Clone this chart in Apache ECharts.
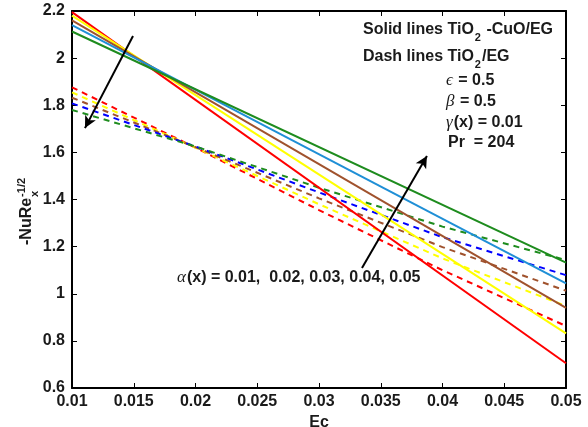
<!DOCTYPE html>
<html><head><meta charset="utf-8">
<script src="https://cdn.jsdelivr.net/npm/echarts@6/dist/echarts.min.js"></script>
<style>html,body{margin:0;padding:0;background:#fff;}#c{width:588px;height:427px;}</style>
</head><body><div id="c"></div>
<script>
// ---- data ----
const xTicks = ['0.01','0.015','0.02','0.025','0.03','0.035','0.04','0.045','0.05'];
const yTicks = ['0.6','0.8','1','1.2','1.4','1.6','1.8','2','2.2'];
const seriesNames = ['red','yellow','brown','blue','green'];
// solid lines (TiO2-CuO/EG): straight, read at Ec=0.01 and Ec=0.05
const solidEc = [0.01, 0.05];
const solidRed    = [2.195, 0.705];
const solidYellow = [2.18, 0.832];
const solidBrown  = [2.16, 0.94];
const solidBlue   = [2.14, 1.044];
const solidGreen  = [2.113, 1.132];
// dashed lines (TiO2/EG)
const dashEc = [0.01, 0.02, 0.03, 0.04, 0.05];
const dashRed    = [1.876, 1.62, 1.355, 1.10, 0.863];
const dashYellow = [1.855, 1.62, 1.38, 1.15, 0.948];
const dashBrown  = [1.832, 1.622, 1.405, 1.198, 1.013];
const dashBlue   = [1.808, 1.625, 1.43, 1.24, 1.079];
const dashGreen  = [1.78, 1.625, 1.45, 1.285, 1.143];
// arrows (data coords): [start, end]
const arrowDown = [[0.01494, 2.094], [0.01105, 1.703]];
const arrowUp   = [[0.03348, 1.109], [0.03874, 1.585]];

// ---- styles ----
const solidColors = ['#ff0000', '#ffff00', '#a0522d', '#1f8fd6', '#1e8c1e'];
const dashColors  = ['#ff0000', '#ffff00', '#a0522d', '#0000ff', '#1e8c1e'];
const FONT = 'Liberation Sans';
const TXT = '#1a1a1a';
const BOLD16 = 'bold 16px "Liberation Sans"';
const SUB = 'bold 11px "Liberation Sans"';
const GREEK = 'italic 17px "Liberation Serif"';

const ctx = document.createElement('canvas').getContext('2d');
function tw(t, f) { ctx.font = f; return ctx.measureText(t).width; }

const pair = (xs, ys) => xs.map((x, i) => [x, ys[i]]);
const solids = [solidRed, solidYellow, solidBrown, solidBlue, solidGreen];
const dashes = [dashRed, dashYellow, dashBrown, dashBlue, dashGreen];

const series = [];
dashes.forEach((d, i) => series.push({
  type: 'line', name: 'dash ' + seriesNames[i], data: pair(dashEc, d), showSymbol: false,
  lineStyle: { color: dashColors[i], width: 2, type: [6, 5] }, silent: true, z: 2
}));
solids.forEach((d, i) => series.push({
  type: 'line', name: 'solid ' + seriesNames[i], data: pair(solidEc, d), showSymbol: false,
  lineStyle: { color: solidColors[i], width: 2 }, silent: true, z: 3
}));
series.push({
  type: 'line', data: [], silent: true, z: 5,
  markLine: {
    silent: true, symbol: ['none', 'arrow'], symbolSize: [9, 12], label: { show: false },
    lineStyle: { color: '#000', width: 2, type: 'solid' },
    emphasis: { disabled: true },
    data: [
      [{ coord: arrowDown[0] }, { coord: arrowDown[1] }],
      [{ coord: arrowUp[0] }, { coord: arrowUp[1] }]
    ]
  }
});

const axisCommon = {
  axisLine: { show: true, onZero: false, lineStyle: { color: '#000', width: 2 } },
  axisTick: { show: true, inside: true, length: 5, lineStyle: { color: '#000', width: 1 } },
  splitLine: { show: false }
};

function subText(x, y, a, s, b) {
  const w = tw(a, BOLD16);
  const ws = tw(s, SUB);
  return { type: 'group', x: x, y: y, children: [
    { type: 'text', x: 0, y: 0, style: { text: a, font: BOLD16, fill: TXT, textVerticalAlign: 'middle' } },
    { type: 'text', x: w + 1, y: 8, style: { text: s, font: SUB, fill: TXT, textVerticalAlign: 'middle' } },
    { type: 'text', x: w + ws + 2, y: 0, style: { text: b, font: BOLD16, fill: TXT, textVerticalAlign: 'middle' } }
  ] };
}
function greekText(x, y, g, b) {
  const w = tw(g, GREEK);
  return { type: 'group', x: x, y: y, children: [
    { type: 'text', x: 0, y: 0, style: { text: g, font: GREEK, fill: TXT, textVerticalAlign: 'middle' } },
    { type: 'text', x: w + 1, y: 0, style: { text: b, font: BOLD16, fill: TXT, textVerticalAlign: 'middle' } }
  ] };
}
const nuW = tw('-NuRe', BOLD16);

const option = {
  animation: false,
  backgroundColor: '#fff',
  grid: { left: 72, right: 22, top: 11, bottom: 39, containLabel: false, outerBoundsMode: 'none' },
  xAxis: [
    Object.assign({}, axisCommon, {
      type: 'value', min: 0.01, max: 0.05, interval: 0.005, position: 'bottom',
      name: 'Ec', nameLocation: 'middle', nameGap: 21,
      nameTextStyle: { fontFamily: FONT, fontWeight: 'bold', fontSize: 16, color: TXT },
      axisLabel: { fontFamily: FONT, fontWeight: 'bold', fontSize: 16, color: TXT, margin: 6,
        formatter: v => { const i = Math.round((v - 0.01) / 0.005); return xTicks[i] || ''; } }
    }),
    Object.assign({}, axisCommon, {
      type: 'value', min: 0.01, max: 0.05, interval: 0.005, position: 'top', axisLabel: { show: false }
    })
  ],
  yAxis: [
    Object.assign({}, axisCommon, {
      type: 'value', min: 0.6, max: 2.2, interval: 0.2, position: 'left',
      axisLabel: { fontFamily: FONT, fontWeight: 'bold', fontSize: 16, color: TXT, margin: 7,
        formatter: v => { const i = Math.round((v - 0.6) / 0.2); return yTicks[i] || ''; } }
    }),
    Object.assign({}, axisCommon, {
      type: 'value', min: 0.6, max: 2.2, interval: 0.2, position: 'right', axisLabel: { show: false }
    })
  ],
  series: series,
  graphic: [
    {
      type: 'group', x: 27, y: 245, rotation: Math.PI / 2,
      children: [
        { type: 'text', x: 0, y: 0, style: { text: '-NuRe', font: BOLD16, fill: TXT, textVerticalAlign: 'middle' } },
        { type: 'text', x: nuW + 1, y: 8, style: { text: 'x', font: SUB, fill: TXT, textVerticalAlign: 'middle' } },
        { type: 'text', x: nuW + 1, y: -5, style: { text: '-1/2', font: SUB, fill: TXT, textVerticalAlign: 'middle' } }
      ]
    },
    subText(363, 30, 'Solid lines TiO', '2', ' -CuO/EG'),
    subText(363, 57, 'Dash lines TiO', '2', '/EG'),
    greekText(446, 81, 'ϵ', ' = 0.5'),
    greekText(446, 102, 'β', ' = 0.5'),
    greekText(446, 123, 'γ', '(x) = 0.01'),
    { type: 'text', x: 448, y: 143, style: { text: 'Pr  = 204', font: BOLD16, fill: TXT, textVerticalAlign: 'middle' } },
    greekText(177, 278, 'α', '(x) = 0.01,  0.02, 0.03, 0.04, 0.05')
  ]
};
const chart = echarts.init(document.getElementById('c'), null, { renderer: 'canvas' });
chart.setOption(option);
</script></body></html>
